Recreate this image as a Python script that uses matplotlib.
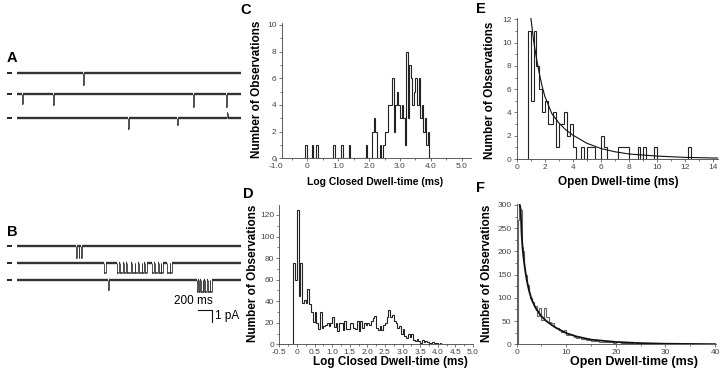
import numpy as np
import matplotlib
matplotlib.use('Agg')
import matplotlib.pyplot as plt
from matplotlib.ticker import MultipleLocator, FuncFormatter

plt.rcParams['font.family'] = ['Liberation Sans', 'DejaVu Sans']
plt.rcParams['axes.unicode_minus'] = False

W, H = 720, 376

# ---------------- data ----------------
# single channel records, time in ms, openings as (start, end, amplitude pA)
trace_len = 3200
a_events = [
    [(940, 950, 1.05)],
    [(70, 80, 0.85), (515, 525, 0.9), (2515, 2525, 1.1), (2985, 2995, 1.1)],
    [(1585, 1595, 0.95), (2285, 2295, 0.57), (3000, 3010, -0.4)],
]
b_events = [
    [(840, 852, 1.0), (880, 892, 1.0), (920, 932, 1.0)],
    [(1243, 1271, 0.85), (1429, 1460, 0.85), (1470, 1514, 0.85), (1529, 1560, 0.85),
     (1572, 1629, 0.85), (1643, 1680, 0.85), (1690, 1729, 0.85), (1743, 1780, 0.85),
     (1792, 1820, 0.85), (1830, 1857, 0.85), (1929, 1960, 0.85), (1972, 2014, 0.85),
     (2029, 2050, 0.85), (2060, 2086, 0.85), (2143, 2180, 0.85), (2190, 2214, 0.85)],
    [(1300, 1310, 0.85), (2571, 2590, 1.0), (2600, 2614, 1.0), (2629, 2650, 1.0),
     (2660, 2671, 1.0), (2686, 2714, 1.0), (2729, 2750, 1.0), (2760, 2786, 1.0)],
]
scale_ms = 200
scale_pA = 1

# C: log closed dwell-time, few-channel patch (bin 0.05)
c_left = [-0.05, 0.15, 0.30, 0.85, 1.10, 1.35, 1.90, 2.10, 2.15, 2.20, 2.35, 2.45,
          2.50, 2.55, 2.60, 2.65, 2.70, 2.75, 2.80, 2.85, 2.90, 2.95, 3.00, 3.05,
          3.10, 3.15, 3.20, 3.25, 3.30, 3.35, 3.40, 3.45, 3.50, 3.55, 3.60, 3.65,
          3.70, 3.75, 3.80, 3.85, 3.90]
c_count = [1, 1, 1, 1, 1, 1, 1, 2, 3, 2, 1, 1,
           2, 2, 4, 4, 4, 6, 2, 4, 5, 4, 3, 4,
           3, 1, 8, 3, 7, 6, 4, 5, 6, 4, 6, 3,
           4, 2, 3, 1, 2]
c_width = 0.05

# D: log closed dwell-time, bins of 0.05 starting at -0.10
d_start = -0.10
d_width = 0.05
d_count = [75, 60, 125, 45, 75, 38, 41, 38, 51, 37,
           30, 21, 30, 20, 14, 30, 15, 17, 18, 20,
           17, 20, 25, 16, 20, 12, 20, 20, 13, 22,
           14, 14, 20, 20, 15, 14, 22, 12, 22, 15,
           20, 18, 20, 18, 22, 24, 26, 15, 13, 17,
           13, 18, 20, 25, 32, 25, 27, 22, 20, 15,
           17, 10, 14, 8, 6, 10, 7, 10, 4, 3,
           5, 3, 1, 4, 2, 3, 2, 1, 1, 2,
           1, 1, 0, 1, 0]

# E: open dwell-time, bins of 0.2 ms starting at 0.8
e_start = 0.8
e_width = 0.2
e_count = [11, 5, 11, 8, 6, 4, 5, 3, 3, 4,
           1, 3, 3, 4, 2, 3, 1, 0, 0, 1,
           0, 1, 1, 1, 0, 0, 2, 1, 0, 0,
           0, 0, 1, 1, 1, 1, 0, 0, 0, 1,
           0, 1, 0, 0, 0, 1, 0, 0, 0, 0,
           0, 0, 0, 0, 0, 0, 0, 1]
e_fit_x = [1.0, 1.2, 1.4, 1.6, 1.8, 2.0, 2.5, 3.0, 3.5, 4.0, 5.0, 6.0, 7.0, 8.0,
           10.0, 12.0, 14.3]
e_fit_y = [12.2, 10.2, 8.7, 7.4, 6.3, 5.4, 3.9, 3.1, 2.5, 2.05, 1.35, 0.9, 0.62,
           0.43, 0.25, 0.14, 0.08]

# F: open dwell-time, 0.25 ms bins to 3 ms then 0.5 ms bins to 40 ms
f_edges = list(np.arange(0.25, 3.0, 0.25)) + list(np.arange(3.0, 40.01, 0.5))
f_count = [268, 300, 290, 210, 200, 165, 150, 125, 128, 110, 100,
           92, 82, 60, 78, 52, 78, 58, 48, 45, 38, 36, 30, 26, 30, 19, 23, 20, 15,
           14, 16, 12, 11, 9, 10, 8, 7, 8, 6, 5, 6, 4, 5, 4, 3, 6, 4, 3, 3,
           2, 3, 2, 1, 2, 1, 2, 1, 3, 1, 1, 2, 1, 1, 2, 1,
           0, 1, 0, 1, 0, 0, 1, 0, 0, 0, 1, 0, 0, 0, 0, 1, 0, 0, 0, 0]
f_fit_x = [0.6, 0.8, 1.0, 1.2, 1.4, 1.7, 2.0, 2.5, 3.0, 3.5, 4.0, 5.0, 6.0, 7.0,
           8.0, 10.0, 12.0, 15.0, 20.0, 25.0, 30.0, 40.0]
f_fit_y = [300, 290, 235, 205, 185, 160, 140, 115, 97, 85, 75, 60, 50, 42,
           35, 24, 17, 10, 5, 2.5, 1.2, 0.3]


def rect(x0, y0, x1, y1):
    return [x0 / W, 1 - y1 / H, (x1 - x0) / W, (y1 - y0) / H]


def draw_trace(ax, events, off):
    # closed level drawn heavy (noise band), transitions thin
    t_prev = 0
    for s, e, amp in events:
        ax.hlines(off, t_prev, s, color='#333333', lw=1.7)
        ax.hlines(off - amp, s, e, color='#333333', lw=1.1)
        ax.vlines([s, e], min(off, off - amp), max(off, off - amp),
                  color='#333333', lw=0.6)
        t_prev = e
    ax.hlines(off, t_prev, trace_len, color='#333333', lw=1.7)


def style(ax, xmaj, xmin, ymaj, ymin, fmt=None):
    for s in ['top', 'right']:
        ax.spines[s].set_visible(False)
    for s in ['left', 'bottom']:
        ax.spines[s].set_linewidth(0.6)
        ax.spines[s].set_color('#444444')
    ax.xaxis.set_major_locator(MultipleLocator(xmaj))
    ax.xaxis.set_minor_locator(MultipleLocator(xmin))
    ax.yaxis.set_major_locator(MultipleLocator(ymaj))
    ax.yaxis.set_minor_locator(MultipleLocator(ymin))
    ax.tick_params(which='major', direction='out', length=2.5, width=0.5,
                   labelsize=6, colors='#444444', pad=1.2)
    ax.tick_params(which='minor', direction='out', length=1.5, width=0.5,
                   colors='#444444')
    if fmt:
        ax.xaxis.set_major_formatter(FuncFormatter(fmt))


def dec_fmt(v, pos):
    if abs(v) < 1e-9:
        return '0'
    return '%.1f' % v


fig = plt.figure(figsize=(7.2, 3.76), dpi=100)

# ---------------- A and B: traces ----------------
ax_t = fig.add_axes(rect(0, 40, 250, 330))
ax_t.set_xlim((0 - 17) / 0.07, (250 - 17) / 0.07)
ax_t.set_ylim(-(330 - 40) / 11.7, 0)
ax_t.axis('off')
offsets_a = [-2.79, -4.62, -6.67]
offsets_b = [-17.6, -19.09, -20.51]
for evs, off in zip(a_events + b_events, offsets_a + offsets_b):
    draw_trace(ax_t, evs, off)
    ax_t.hlines(off, -143, -71, color='#111111', lw=1.3)

# scale bar
bar_x = 2786
bar_y = -23.08
ax_t.plot([bar_x - scale_ms, bar_x, bar_x], [bar_y, bar_y, bar_y - scale_pA],
          color='#111111', lw=0.8)
ax_t.text(bar_x + 10, bar_y + 0.25, '%d ms' % scale_ms, ha='right', va='bottom',
          fontsize=8.5)
ax_t.text(bar_x + 40, bar_y - 0.5, '%d pA' % scale_pA, ha='left', va='center',
          fontsize=8.5)

# ---------------- C ----------------
axc = fig.add_axes(rect(276, 23, 471.3, 158.3))
c_full = np.zeros(int(round((4.0 - (-0.10)) / c_width)) + 1)
for l, c in zip(c_left, c_count):
    c_full[int(round((l + 0.10) / c_width))] = c
c_edges = -0.10 + c_width * np.arange(len(c_full) + 1)
axc.stairs(c_full, c_edges, color='#222222', lw=0.8, baseline=0)
axc.set_xlim(-1.0, 5.3)
axc.set_ylim(0, 10.15)
style(axc, 1.0, 0.5, 2, 1, dec_fmt)
axc.spines['left'].set_position(('data', -0.82))
axc.spines['bottom'].set_bounds(-0.82, 5.3)

# ---------------- D ----------------
axd = fig.add_axes(rect(279.3, 205.3, 473, 344.3))
d_edges = d_start + d_width * np.arange(len(d_count) + 1)
axd.stairs(d_count, d_edges, color='#222222', lw=0.8, baseline=0)
axd.set_xlim(-0.5, 5.0)
axd.set_ylim(0, 129)
style(axd, 0.5, 0.25, 20, 10, dec_fmt)

# ---------------- E ----------------
axe = fig.add_axes(rect(516.7, 18.2, 717.6, 159))
e_edges = e_start + e_width * np.arange(len(e_count) + 1)
axe.stairs(e_count, e_edges, color='#222222', lw=0.8, baseline=0)
axe.plot(e_fit_x, e_fit_y, color='#111111', lw=0.8)
axe.set_xlim(0, 14.3)
axe.set_ylim(0, 12.1)
style(axe, 2, 1, 2, 1)

# ---------------- F ----------------
axf = fig.add_axes(rect(516.7, 203.6, 716.5, 344.3))
axf.stairs(f_count, f_edges, color='#666666', lw=0.8, baseline=0)
axf.plot(f_fit_x, f_fit_y, color='#111111', lw=1.3)
axf.set_xlim(0, 40.3)
axf.set_ylim(0, 303)
style(axf, 10, 5, 50, 25)

# ---------------- labels ----------------
def ftext(x, y, s, **kw):
    fig.text(x / W, 1 - y / H, s, ha='center', va='center', **kw)

for letter, x, y in [('A', 12, 58), ('B', 12, 232), ('C', 246, 10),
                     ('D', 248, 194), ('E', 481, 9), ('F', 481, 188)]:
    ftext(x, y, letter, fontsize=10.5, fontweight='bold')

for x, y in [(257, 89), (253, 273), (490, 90), (487, 273)]:
    ftext(x, y, 'Number of Observations', fontsize=8.5, fontweight='bold', rotation=90)

ftext(375, 182, 'Log Closed Dwell-time (ms)', fontsize=7.5, fontweight='bold')
ftext(390, 362, 'Log Closed Dwell-time (ms)', fontsize=8.5, fontweight='bold')
ftext(618, 182, 'Open Dwell-time (ms)', fontsize=8.5, fontweight='bold')
ftext(634, 362, 'Open Dwell-time (ms)', fontsize=9, fontweight='bold')

fig.savefig('out.png', dpi=100)
